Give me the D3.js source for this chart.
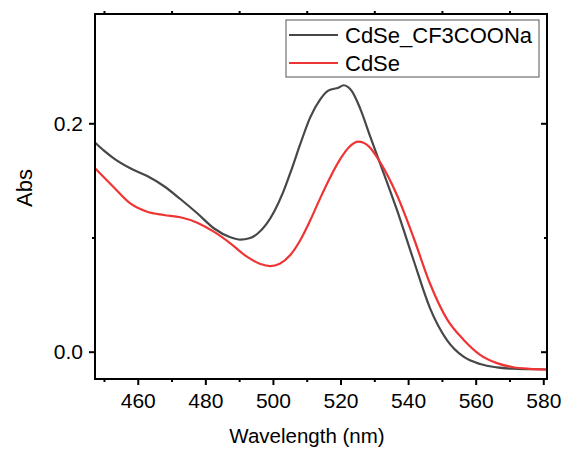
<!DOCTYPE html>
<html>
<head>
<meta charset="utf-8">
<script src="https://cdn.jsdelivr.net/npm/d3@7"></script>
<style>
  body { margin: 0; background: #fff; }
  text { font-family: "Liberation Sans", Arial, sans-serif; fill: #000; }
</style>
</head>
<body>
<div id="chart"></div>
<script>
// wavelength (nm) / absorbance
var wlTreated = [447.4, 450, 452.9, 457.8, 462.8, 467.7, 472.6, 477.6, 482.5, 487.4, 490.4, 493, 495.5, 498, 500.5, 503, 505.5, 508, 511, 514, 516.5, 519.4, 520.9, 523.4, 525.8, 528.8, 531.7, 536.7, 541.6, 546.5, 551.5, 556.4, 561.3, 566.3, 571.1, 576, 581];
var absTreated = [0.1830, 0.1760, 0.1693, 0.1606, 0.1538, 0.1451, 0.1337, 0.1212, 0.1081, 0.1002, 0.0981, 0.0993, 0.1035, 0.1115, 0.1235, 0.1395, 0.1595, 0.1810, 0.2050, 0.2210, 0.2288, 0.2312, 0.2333, 0.2280, 0.2131, 0.1883, 0.1650, 0.1241, 0.0803, 0.0380, 0.0102, -0.0044, -0.0108, -0.0137, -0.0149, -0.0153, -0.0156];

var wlBare = [447.4, 452.9, 457.8, 462.8, 467.7, 472.6, 477.6, 482.5, 487.4, 492.3, 496.3, 499.2, 502, 505, 508, 511, 514, 517, 520, 522.5, 525.3, 528.3, 531.7, 536.7, 541.6, 546.5, 551.5, 556.4, 561.3, 566.3, 571.1, 576, 581];
var absBare = [0.1605, 0.1440, 0.1299, 0.1226, 0.1197, 0.1177, 0.1130, 0.1051, 0.0949, 0.0832, 0.0768, 0.0750, 0.0770, 0.0842, 0.0972, 0.1148, 0.1345, 0.1530, 0.1690, 0.1790, 0.1839, 0.1800, 0.1660, 0.1372, 0.1000, 0.0595, 0.0285, 0.0105, -0.0027, -0.0100, -0.0136, -0.0150, -0.0156];

var seriesNames = ['CdSe_CF3COONa', 'CdSe'];
var seriesColors = ['#474747', '#ef3434'];

var xMajor = [460, 480, 500, 520, 540, 560, 580];
var xMinor = [450, 470, 490, 510, 530, 550, 570];
var yMajor = [0.0, 0.2];
var yMinor = [0.1];

const W = 563, H = 452;
const m = {left: 95, top: 14, right: 16, bottom: 73};
const pw = W - m.left - m.right, ph = H - m.top - m.bottom;

const x = d3.scaleLinear().domain([447.35, 581.1]).range([0, pw]);
const y = d3.scaleLinear().domain([-0.0239, 0.2957]).range([ph, 0]);

const svg = d3.select('#chart').append('svg')
  .attr('width', W).attr('height', H);

svg.append('defs').append('clipPath').attr('id', 'clip')
  .append('rect').attr('width', pw).attr('height', ph);

const g = svg.append('g').attr('transform', 'translate(' + m.left + ',' + m.top + ')');

// curves
const line = d3.line()
  .x(d => x(d[0])).y(d => y(d[1]))
  .curve(d3.curveMonotoneX);

const series = [
  d3.zip(wlTreated, absTreated),
  d3.zip(wlBare, absBare)
];

g.append('g').attr('clip-path', 'url(#clip)').selectAll('path')
  .data(series)
  .enter().append('path')
    .attr('d', line)
    .attr('fill', 'none')
    .attr('stroke', (d, i) => seriesColors[i])
    .attr('stroke-width', 2.2);

// axes
function styleAxis(sel) {
  sel.selectAll('.domain').remove();
  sel.selectAll('line').attr('stroke', '#000').attr('stroke-width', 2);
  sel.selectAll('text').style('font-size', '21px').style('font-family', '"Liberation Sans", Arial, sans-serif');
}

g.append('g').attr('transform', 'translate(0,' + ph + ')')
  .call(d3.axisBottom(x).tickValues(xMajor).tickSize(6).tickPadding(8).tickFormat(d3.format('d')))
  .call(styleAxis);
g.append('g').attr('transform', 'translate(0,' + ph + ')')
  .call(d3.axisBottom(x).tickValues(xMinor).tickSize(3).tickFormat(''))
  .call(styleAxis);
g.append('g')
  .call(d3.axisTop(x).tickValues(xMinor).tickSize(3).tickFormat(''))
  .call(styleAxis);

g.append('g')
  .call(d3.axisLeft(y).tickValues(yMajor).tickSize(6).tickPadding(6).tickFormat(d3.format('.1f')))
  .call(styleAxis);
g.append('g')
  .call(d3.axisLeft(y).tickValues(yMinor).tickSize(3).tickFormat(''))
  .call(styleAxis);
g.append('g').attr('transform', 'translate(' + pw + ',0)')
  .call(d3.axisLeft(y).tickValues(yMajor).tickSize(6).tickFormat(''))
  .call(styleAxis);
g.append('g').attr('transform', 'translate(' + pw + ',0)')
  .call(d3.axisLeft(y).tickValues(yMinor).tickSize(3).tickFormat(''))
  .call(styleAxis);

// frame
g.append('rect')
  .attr('width', pw).attr('height', ph)
  .attr('fill', 'none').attr('stroke', '#000').attr('stroke-width', 2);

// axis titles
svg.append('text')
  .attr('x', 307).attr('y', 443)
  .attr('text-anchor', 'middle')
  .style('font-size', '20.5px')
  .text('Wavelength (nm)');

svg.append('text')
  .attr('transform', 'translate(32,188) rotate(-90)')
  .attr('text-anchor', 'middle')
  .style('font-size', '22px')
  .text('Abs');

// legend
const lg = svg.append('g').attr('transform', 'translate(286,20)');
lg.append('rect')
  .attr('width', 253).attr('height', 57)
  .attr('fill', '#fff').attr('stroke', '#555').attr('stroke-width', 1);
const item = lg.selectAll('g.item')
  .data(seriesNames)
  .enter().append('g')
    .attr('class', 'item')
    .attr('transform', (d, i) => 'translate(0,' + (15 + i * 28) + ')');
item.append('line')
  .attr('x1', 3).attr('x2', 52)
  .attr('stroke', (d, i) => seriesColors[i])
  .attr('stroke-width', 2.2);
item.append('text')
  .attr('x', 59).attr('y', 8)
  .style('font-size', '22px')
  .text(d => d);
</script>
</body>
</html>
